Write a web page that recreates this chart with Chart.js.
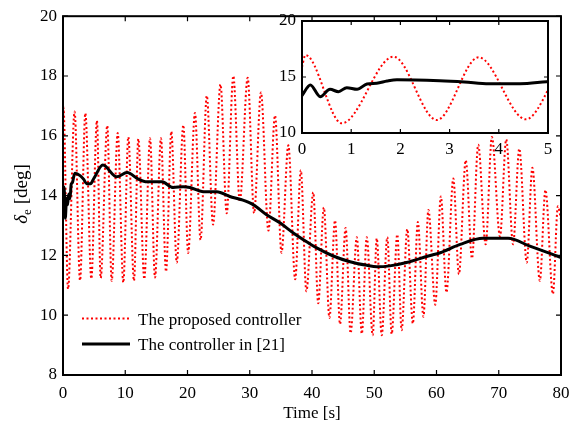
<!DOCTYPE html>
<html>
<head>
<meta charset="utf-8">
<script src="https://cdn.jsdelivr.net/npm/chart.js@4.4.1/dist/chart.umd.min.js"></script>
<style>
  html, body { margin: 0; padding: 0; background: #fff; }
  #wrap { position: relative; width: 580px; height: 427px; }
  #main { position: absolute; left: 0; top: 0; }
  #inset { position: absolute; left: 260px; top: 0; }
</style>
</head>
<body>
<div id="wrap">
  <canvas id="main" width="580" height="427"></canvas>
  <canvas id="inset" width="310" height="170"></canvas>
</div>
<script>
// proposed controller: turning points (time [s], deg)
const redT = [0, 0.07, 0.81, 1.86, 2.74, 3.59, 4.55, 5.45, 6.05, 7.11, 7.82, 8.79, 9.69, 10.49, 11.4, 12.1,
  13.06, 13.98, 14.78, 15.74, 16.55, 17.4, 18.27, 19.33, 20.1, 21.2, 22.1, 23.1, 24.1, 25.3, 26.3, 27.36,
  28.4, 29.67, 30.7, 31.8, 33.0, 34.06, 35.1, 36.2, 37.3, 38.2, 39.1, 40.2, 41.0, 41.9, 42.8, 43.7, 44.5,
  45.4, 46.2, 47.2, 48.0, 48.8, 49.75, 50.4, 51.2, 52.1, 52.8, 53.7, 54.4, 55.3, 56.2, 57.0, 57.9, 58.7,
  59.8, 60.7, 61.6, 62.7, 63.6, 64.7, 65.7, 66.7, 67.9, 68.9, 70.2, 71.2, 72.3, 73.3, 74.5, 75.4, 76.6,
  77.5, 78.7, 79.5, 80];
const redV = [15.9, 16.96, 10.87, 16.81, 11.16, 16.76, 11.22, 16.51, 11.24, 16.34, 11.15, 16.09, 11.09, 15.96,
  11.15, 15.9, 11.21, 15.92, 11.26, 15.92, 11.46, 16.14, 11.76, 16.36, 12.08, 16.76, 12.52, 17.34, 13.03,
  17.72, 13.41, 18.0, 13.8, 17.94, 13.41, 17.45, 12.83, 16.68, 12.09, 15.68, 11.2, 14.85, 10.8, 14.11,
  10.4, 13.6, 9.91, 13.17, 9.7, 12.92, 9.4, 12.61, 9.38, 12.61, 9.33, 12.57, 9.33, 12.61, 9.37, 12.7,
  9.5, 12.88, 9.72, 13.12, 9.95, 13.52, 10.35, 13.97, 10.76, 14.57, 11.37, 15.18, 11.9, 15.7, 12.37,
  15.96, 12.64, 15.88, 12.37, 15.57, 11.76, 14.93, 11.15, 14.19, 10.71, 13.64, 13.2];

// controller in [21]
const blackT = [0, 0.17, 0.37, 0.57, 0.74, 0.91, 1.12, 1.32, 1.52, 1.73, 1.93, 2.8, 3.3, 3.8, 4.43, 4.97,
  6.4, 8.6, 10.3, 12.1, 13.5, 15.9, 17.7, 19.3, 20.4, 22.5, 24.7, 26.8, 28.7, 30.6, 32.7, 34.9, 37.0,
  39.4, 40.75, 43.4, 46.1, 48.8, 50.4, 52.5, 55.2, 58.7, 60.6, 63.8, 67.5, 71.5, 75.0, 80];
const blackV = [13.35, 14.29, 13.24, 13.9, 13.69, 14.05, 13.9, 14.38, 14.44, 14.64, 14.75, 14.66, 14.55,
  14.4, 14.4, 14.58, 15.02, 14.63, 14.77, 14.55, 14.46, 14.46, 14.27, 14.3, 14.27, 14.13, 14.13, 13.97,
  13.86, 13.69, 13.36, 13.08, 12.75, 12.42, 12.25, 11.98, 11.79, 11.67, 11.62, 11.65, 11.76, 11.98,
  12.09, 12.37, 12.57, 12.57, 12.31, 11.93];

const seriesNames = ['The proposed controller', 'The controller in [21]'];

const FONT = 'Liberation Serif, Times New Roman, serif';

function pts(xs, ys) { return xs.map((x, i) => ({ x: x, y: ys[i] })); }

function makeDatasets() {
  return [
    {
      label: seriesNames[0],
      data: pts(redT, redV),
      borderColor: '#ff0000',
      borderWidth: 2,
      borderDash: [2, 2.5],
      pointRadius: 0,
      cubicInterpolationMode: 'monotone',
      order: 2
    },
    {
      label: seriesNames[1],
      data: pts(blackT, blackV),
      borderColor: '#000000',
      borderWidth: 3,
      pointRadius: 0,
      cubicInterpolationMode: 'monotone',
      order: 1
    }
  ];
}

// box round the plot with inward ticks on all four sides
const frame = {
  id: 'frame',
  beforeDraw(chart, args, opts) {
    if (!opts.fill) return;
    const a = chart.chartArea, ctx = chart.ctx;
    ctx.save();
    ctx.fillStyle = '#fff';
    ctx.fillRect(a.left, a.top, a.width, a.height);
    ctx.restore();
  },
  afterDatasetsDraw(chart, args, opts) {
    const ctx = chart.ctx, a = chart.chartArea, x = chart.scales.x, y = chart.scales.y;
    const len = opts.tick || 5;
    ctx.save();
    ctx.strokeStyle = '#000';
    ctx.lineWidth = 1.2;
    ctx.beginPath();
    x.ticks.forEach(t => {
      const p = x.getPixelForValue(t.value);
      ctx.moveTo(p, a.bottom); ctx.lineTo(p, a.bottom - len);
      ctx.moveTo(p, a.top); ctx.lineTo(p, a.top + len);
    });
    y.ticks.forEach(t => {
      const p = y.getPixelForValue(t.value);
      ctx.moveTo(a.left, p); ctx.lineTo(a.left + len, p);
      ctx.moveTo(a.right, p); ctx.lineTo(a.right - len, p);
    });
    ctx.stroke();
    ctx.lineWidth = opts.border || 2;
    ctx.strokeRect(a.left, a.top, a.width, a.height);
    ctx.restore();
  }
};

// legend inside the plot and the y title with its subscript
const extras = {
  id: 'extras',
  afterDraw(chart) {
    const ctx = chart.ctx;
    ctx.save();
    ctx.font = '17px ' + FONT;
    ctx.fillStyle = '#000';
    ctx.textBaseline = 'middle';
    const rows = [318.5, 344];
    chart.data.datasets.forEach((ds, i) => {
      ctx.save();
      ctx.strokeStyle = ds.borderColor;
      ctx.lineWidth = ds.borderWidth;
      ctx.setLineDash(ds.borderDash || []);
      ctx.beginPath();
      ctx.moveTo(82, rows[i]);
      ctx.lineTo(130, rows[i]);
      ctx.stroke();
      ctx.restore();
      ctx.fillText(ds.label, 138, rows[i] + 2);
    });

    // y title: delta_e [deg]
    ctx.translate(21, 194);
    ctx.rotate(-Math.PI / 2);
    const fMain = 'italic 19px ' + FONT, fSub = '13px ' + FONT, fRest = '19px ' + FONT;
    ctx.font = fMain; const w1 = ctx.measureText('δ').width;
    ctx.font = fSub; const w2 = ctx.measureText('e').width;
    ctx.font = fRest; const w3 = ctx.measureText(' [deg]').width;
    let x0 = -(w1 + w2 + w3) / 2;
    ctx.textBaseline = 'alphabetic';
    ctx.font = fMain; ctx.fillText('δ', x0, 6); x0 += w1;
    ctx.font = fSub; ctx.fillText('e', x0, 10); x0 += w2;
    ctx.font = fRest; ctx.fillText(' [deg]', x0, 6);
    ctx.restore();
  }
};

const tickFont = { family: FONT, size: 17 };

new Chart(document.getElementById('main'), {
  type: 'line',
  data: { datasets: makeDatasets() },
  plugins: [frame, extras],
  options: {
    responsive: false,
    animation: false,
    layout: { padding: { top: 13, right: 19, left: 0, bottom: 0 } },
    plugins: {
      legend: { display: false },
      tooltip: { enabled: false },
      frame: { tick: 5, border: 2 }
    },
    scales: {
      x: {
        type: 'linear', min: 0, max: 80,
        grid: { display: false, drawTicks: false }, border: { display: false },
        ticks: { stepSize: 10, color: '#000', font: tickFont, padding: 8, maxRotation: 0 },
        title: { display: true, text: 'Time [s]', color: '#000', font: tickFont, padding: { top: 0, bottom: 3 } },
        afterFit(s) { s.height = 52; }
      },
      y: {
        min: 8, max: 20,
        grid: { display: false, drawTicks: false }, border: { display: false },
        ticks: { stepSize: 2, color: '#000', font: tickFont, padding: 6 },
        afterFit(s) { s.width = 63; }
      }
    }
  }
});

new Chart(document.getElementById('inset'), {
  type: 'line',
  data: { datasets: makeDatasets() },
  plugins: [frame],
  options: {
    responsive: false,
    animation: false,
    layout: { padding: { top: 21, right: 22, left: 0, bottom: 0 } },
    plugins: {
      legend: { display: false },
      tooltip: { enabled: false },
      frame: { tick: 4, border: 2, fill: true }
    },
    scales: {
      x: {
        type: 'linear', min: 0, max: 5,
        grid: { display: false, drawTicks: false }, border: { display: false },
        ticks: { stepSize: 1, color: '#000', font: tickFont, padding: 6, maxRotation: 0 },
        afterFit(s) { s.height = 37; }
      },
      y: {
        min: 10, max: 20,
        grid: { display: false, drawTicks: false }, border: { display: false },
        ticks: { stepSize: 5, color: '#000', font: tickFont, padding: 6 },
        afterFit(s) { s.width = 42; }
      }
    }
  }
});
</script>
</body>
</html>
